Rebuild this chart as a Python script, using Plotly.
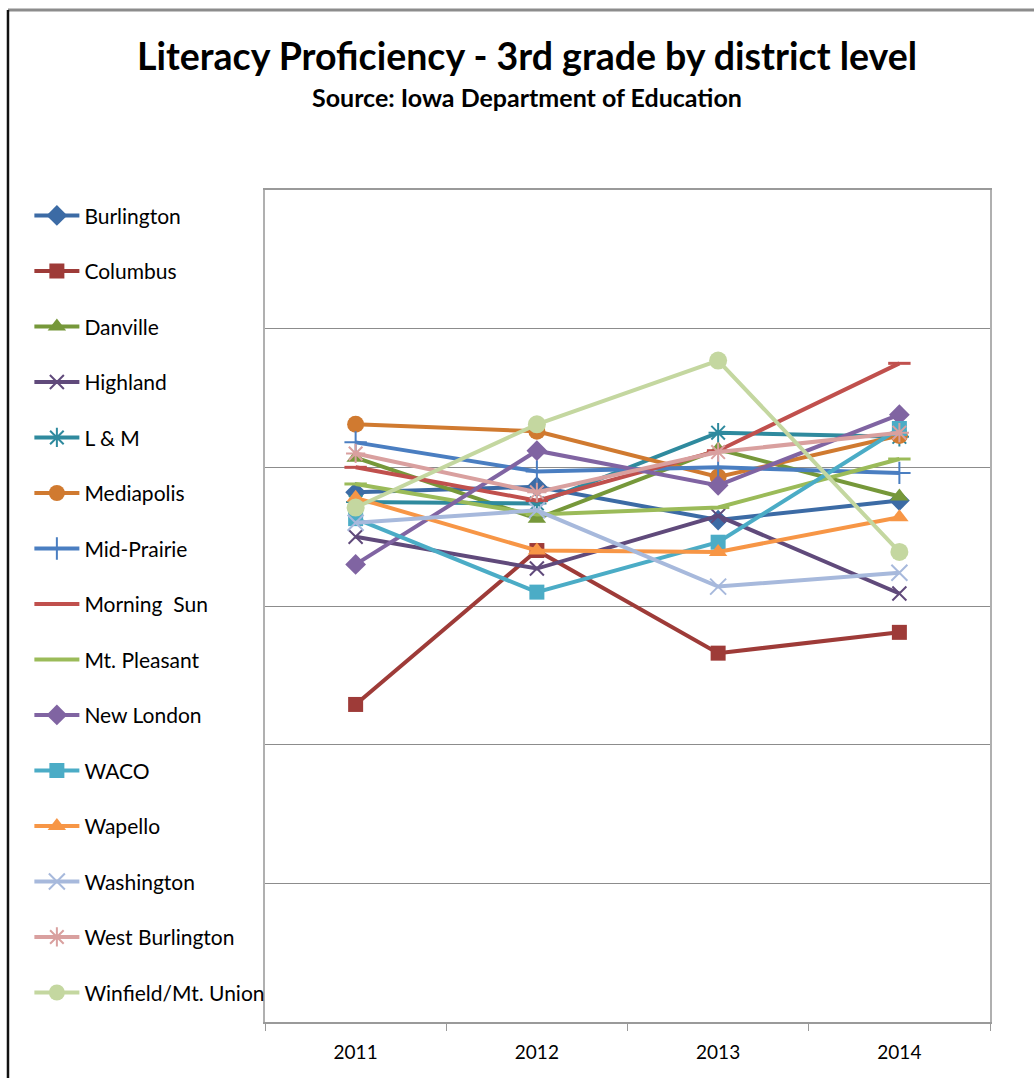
import plotly.graph_objects as go

# School years on the category axis
years = ["2011", "2012", "2013", "2014"]

# Percent of 3rd graders proficient in literacy, by district
burlington = [78.2, 78.6, 76.2, 77.6]
columbus = [62.9, 74.0, 66.6, 68.1]
danville = [80.7, 76.3, 81.3, 77.9]
highland = [75.0, 72.7, 76.5, 70.9]
l_and_m = [77.5, 77.4, 82.5, 82.2]
mediapolis = [83.1, 82.6, 79.3, 82.3]
mid_prairie = [81.8, 79.7, 80.0, 79.6]
morning_sun = [80.0, 77.6, 81.2, 87.5]
mt_pleasant = [78.8, 76.6, 77.1, 80.6]
new_london = [73.0, 81.2, 78.7, 83.8]
waco = [76.3, 71.0, 74.6, 82.8]
wapello = [77.8, 74.0, 73.9, 76.4]
washington = [76.0, 76.9, 71.4, 72.4]
west_burlington = [81.0, 78.2, 81.1, 82.5]
winfield = [77.1, 83.1, 87.7, 73.9]

districts = [
    ("Burlington", burlington, "#3C6BA5", "diamond", 16, False),
    ("Columbus", columbus, "#9E3B38", "square", 15, False),
    ("Danville", danville, "#76983A", "triangle-up", 16, False),
    ("Highland", highland, "#604A7B", "x-thin-open", 14, True),
    ("L & M", l_and_m, "#2F8A9E", "asterisk-open", 16, True),
    ("Mediapolis", mediapolis, "#D07A30", "circle", 17, False),
    ("Mid-Prairie", mid_prairie, "#4A7EC1", "cross-thin-open", 16, True),
    ("Morning  Sun", morning_sun, "#C0504D", "line-ew-open", 16, True),
    ("Mt. Pleasant", mt_pleasant, "#9BBB59", "line-ew-open", 16, True),
    ("New London", new_london, "#8064A2", "diamond", 16, False),
    ("WACO", waco, "#4BACC6", "square", 15, False),
    ("Wapello", wapello, "#F79646", "triangle-up", 16, False),
    ("Washington", washington, "#A7B9DC", "x-thin-open", 16, True),
    ("West Burlington", west_burlington, "#D9A09F", "asterisk-open", 16, True),
    ("Winfield/Mt. Union", winfield, "#C4D7A0", "circle", 18, False),
]

fig = go.Figure()
for i, (name, vals, color, symbol, size, is_open) in enumerate(districts):
    marker = dict(symbol=symbol, size=size, color=color)
    if is_open:
        marker["line"] = dict(color=color, width=3 if symbol.startswith("line") else 2)
    else:
        marker["line"] = dict(width=0)
    fig.add_trace(go.Scatter(
        x=years, y=vals, name=name, mode="lines+markers",
        line=dict(color=color, width=4),
        marker=marker,
        legendgroup=f"g{i}",
    ))

font_family = "Lato, 'Open Sans', sans-serif"

fig.update_layout(
    width=1034, height=1078,
    margin=dict(l=265, r=44, t=190, b=56),
    paper_bgcolor="white", plot_bgcolor="white",
    font=dict(family=font_family, color="#000000"),
    showlegend=True,
    legend=dict(
        x=-0.325, xanchor="left", y=0.9936, yanchor="top",
        font=dict(size=21, family=font_family, color="#000000"),
        tracegroupgap=25.2, itemwidth=45,
        maxheight=1000,
        bgcolor="rgba(0,0,0,0)",
    ),
    xaxis=dict(
        type="category", showgrid=False, zeroline=False,
        showline=True, linecolor="#9A9A9A", linewidth=1.5, mirror=True,
        ticks="outside", tickson="boundaries", ticklen=7, tickcolor="#9A9A9A",
        tickfont=dict(size=19, family=font_family, color="#000000"),
        ticklabelstandoff=12,
        range=[-0.5, 3.5],
    ),
    yaxis=dict(
        range=[40, 100], dtick=10, showticklabels=False,
        showgrid=True, gridcolor="#8C8C8C", gridwidth=1, zeroline=False,
        showline=True, linecolor="#B0B0B0", linewidth=1.5, mirror=True,
    ),
    annotations=[
        dict(text="<b>Literacy Proficiency - 3rd grade by district level</b>",
             xref="paper", yref="paper", x=0.3614, y=1.162,
             xanchor="center", yanchor="middle", showarrow=False,
             font=dict(size=37.5, family=font_family, color="#000000")),
        dict(text="<b>Source: Iowa Department of Education</b>",
             xref="paper", yref="paper", x=0.3614, y=1.112,
             xanchor="center", yanchor="middle", showarrow=False,
             font=dict(size=25, family=font_family, color="#000000")),
    ],
    shapes=[
        # outer chart frame: grey top edge, dark left edge
        dict(type="line", xref="paper", yref="paper",
             x0=-0.3545, x1=1.07, y0=1.2163, y1=1.2163,
             line=dict(color="#8C8C8C", width=3)),
        dict(type="line", xref="paper", yref="paper",
             x0=-0.3545, x1=-0.3545, y0=-0.08, y1=1.2163,
             line=dict(color="#111111", width=2.5)),
    ],
)

fig.write_html("out.html")
